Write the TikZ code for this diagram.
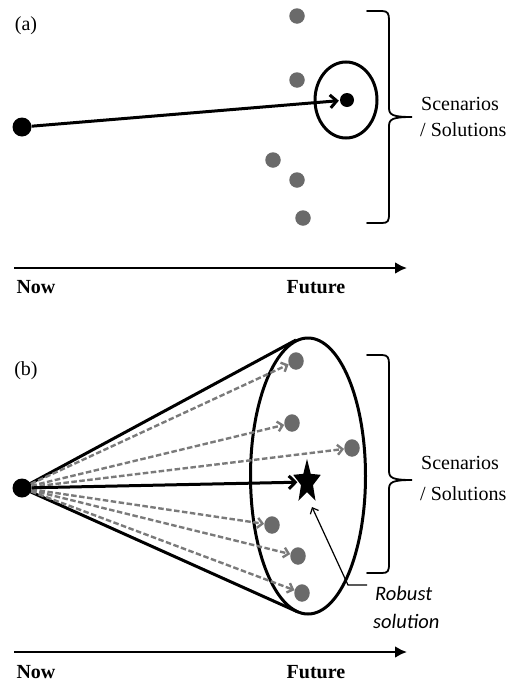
\documentclass[tikz,border=0pt]{standalone}
\usepackage{fontspec}
\setmainfont{Liberation Serif}
\newfontfamily\carl{Carlito}
\usetikzlibrary{arrows.meta,shapes.geometric}
\definecolor{dotgray}{HTML}{6A6A6A}
\definecolor{dashgray}{HTML}{7A7A7A}
\tikzset{
  gdot/.style={circle,fill=dotgray,draw=none,inner sep=0pt,minimum size=15.5pt},
  gdotb/.style={ellipse,fill=dotgray,draw=none,inner sep=0pt,minimum width=15.5pt,minimum height=17.5pt},
  bdot/.style={circle,fill=black,draw=none,inner sep=0pt,minimum size=#1},
  mainarrow/.style={line width=3pt,-{Straight Barb[length=6.5pt,width=13pt]},shorten >=1pt},
  dasharrow/.style={draw=dashgray,line width=2.4pt,dash pattern=on 5.5pt off 2.5pt,-{Straight Barb[length=5pt,width=10pt]}},
  timeline/.style={line width=2.8pt,-{Latex[length=12pt,width=12pt]}},
  lbl/.style={font=\fontsize{20}{22}\selectfont,inner sep=0pt},
  blbl/.style={font=\bfseries\fontsize{20}{22}\selectfont,inner sep=0pt},
  rlbl/.style={font=\carl\itshape\fontsize{20.5}{22}\selectfont,inner sep=0pt,anchor=base west},
  bracepath/.style={line width=1.8pt,line cap=round},
  ringline/.style={line width=3pt},
}
\begin{document}
\begin{tikzpicture}[x=1pt,y=-1pt]
\useasboundingbox (0,0) rectangle (517,683);
% ---------------- panel (a)
\node[lbl] (la) at (26,26) {(a)};
\node[gdot] (a1) at (297,16) {};
\node[gdot] (a2) at (297,80) {};
\node[gdot] (a3) at (273,160) {};
\node[gdot] (a4) at (297,180) {};
\node[gdot] (a5) at (303,218) {};
\node[bdot=19pt] (anow) at (22,127) {};
\node[bdot=14pt] (atgt) at (347,100) {};
\draw[ringline] (346,100) ellipse [x radius=31, y radius=38];
\draw[mainarrow] (anow) -- (atgt);
\draw[bracepath] (367,11) -- (382,11) .. controls (388,11) and (389,14) .. (389,20)
  -- (389,108) .. controls (389,115) and (393,117) .. (412,117)
  .. controls (393,117) and (389,119) .. (389,126)
  -- (389,214) .. controls (389,221) and (388,223) .. (382,223) -- (367,223);
\node[lbl,anchor=base west] (sa1) at (421,110) {Scenarios};
\node[lbl,anchor=base west] (sa2) at (420,136) {/ Solutions};
\coordinate (ta0) at (14,268);
\coordinate (ta1) at (407,268);
\draw[timeline] (ta0) -- (ta1);
\node[blbl] (nowa) at (36,287) {Now};
\node[blbl] (futa) at (316,287) {Future};
% ---------------- panel (b)
\node[lbl] (lb) at (26,371) {(b)};
\node[bdot=19pt] (bnow) at (22,488) {};
\draw[ringline] (308,476) ellipse [x radius=57.5, y radius=138];
\coordinate (ctop) at (296,340);
\coordinate (cbot) at (298,612);
\draw[ringline] (bnow.center) -- (ctop);
\draw[ringline] (bnow.center) -- (cbot);
\node[gdotb] (b1) at (296,361) {};
\node[gdotb] (b2) at (292,423) {};
\node[gdotb] (b3) at (352,448) {};
\node[gdotb] (b4) at (272,525) {};
\node[gdotb] (b5) at (298,556) {};
\node[gdotb] (b6) at (302,593) {};
\begin{scope}[shift={(307,482)},yscale=1.6]
\node[star,star points=5,star point ratio=2.3,minimum size=29pt,inner sep=0pt,fill=black,draw=none,transform shape] (bstar) at (0,0) {};
\end{scope}
\foreach \d in {b1,b2,b3,b4,b5,b6} \draw[dasharrow] (bnow) -- (\d);
\draw[mainarrow] (bnow) -- (bstar);
\draw[bracepath] (367,355) -- (382,355) .. controls (388,355) and (389,358) .. (389,364)
  -- (389,471) .. controls (389,478) and (393,480) .. (412,480)
  .. controls (393,480) and (389,482) .. (389,489)
  -- (389,564) .. controls (389,571) and (388,573) .. (382,573) -- (367,573);
\node[lbl,anchor=base west] (sb1) at (421,469) {Scenarios};
\node[lbl,anchor=base west] (sb2) at (420,500) {/ Solutions};
\node[rlbl] (rob1) at (375,600) {Robust};
\node[rlbl] (rob2) at (373,628) {solution};
\coordinate (rs) at (367,585);
\coordinate (rb) at (348,585);
\coordinate (rt) at (312,507);
\draw[line width=1.2pt,-{Straight Barb[length=5pt,width=9pt]}] (rs) -- (rb) -- (rt);
\coordinate (tb0) at (14,652);
\coordinate (tb1) at (407,652);
\draw[timeline] (tb0) -- (tb1);
\node[blbl] (nowb) at (36,672) {Now};
\node[blbl] (futb) at (316,672) {Future};
\end{tikzpicture}
\end{document}
